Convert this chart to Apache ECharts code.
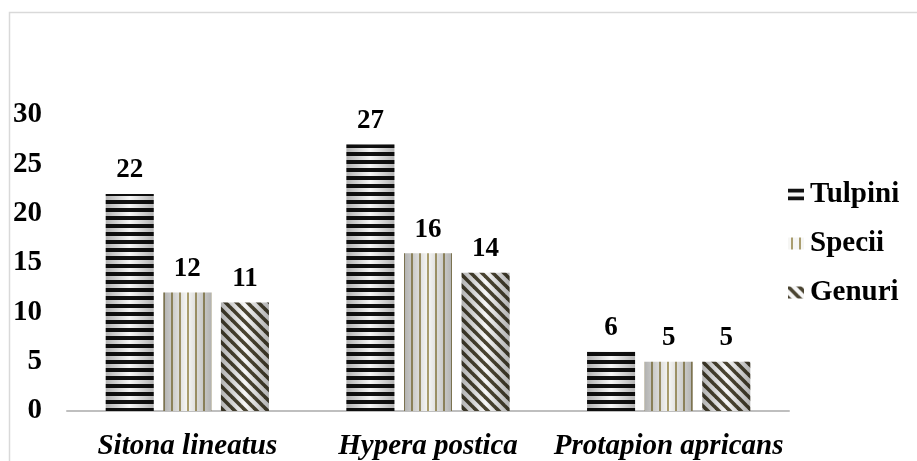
<!DOCTYPE html>
<html>
<head>
<meta charset="utf-8">
<script src="https://cdn.jsdelivr.net/npm/echarts@6/dist/echarts.min.js"></script>
<style>
html,body{margin:0;padding:0;background:#fff;}
#chart{width:917px;height:461px;}
</style>
</head>
<body>
<div id="chart"></div>
<script>
var categories = ['Sitona lineatus', 'Hypera postica', 'Protapion apricans'];
var tulpini = [22, 27, 6];
var specii = [12, 16, 5];
var genuri = [11, 14, 5];
var yTicks = [0, 5, 10, 15, 20, 25, 30];

function makeTile(w, h, draw) {
  var c = document.createElement('canvas');
  c.width = w; c.height = h;
  var ctx = c.getContext('2d');
  draw(ctx, w, h);
  return c;
}
var tileTulpini = makeTile(8, 8, function (ctx, w, h) {
  ctx.fillStyle = '#f7f7f7'; ctx.fillRect(0, 0, w, h);
  ctx.fillStyle = '#111111'; ctx.fillRect(0, 0, w, 4);
});
var tileSpecii = makeTile(8, 8, function (ctx, w, h) {
  ctx.fillStyle = '#f6f6f4'; ctx.fillRect(0, 0, w, h);
  ctx.fillStyle = '#a99d6e'; ctx.fillRect(3, 0, 2, h);
});
var tileGenuri = makeTile(11, 11, function (ctx, w, h) {
  ctx.fillStyle = '#f7f7f7'; ctx.fillRect(0, 0, w, h);
  ctx.strokeStyle = '#4a4431'; ctx.lineWidth = 3.6;
  for (var k = -1; k <= 1; k++) {
    ctx.beginPath();
    ctx.moveTo(k * w - 2, -2);
    ctx.lineTo(k * w + w + 2, h + 2);
    ctx.stroke();
  }
});

var fontFam = '"Liberation Serif", "Times New Roman", serif';
var labelStyle = { show: true, position: 'top', distance: 10, fontFamily: fontFam, fontWeight: 'bold', fontSize: 27, color: '#000' };

var shade = new echarts.graphic.LinearGradient(0, 0, 1, 0, [
  { offset: 0, color: 'rgba(0,0,0,0.28)' },
  { offset: 0.5, color: 'rgba(0,0,0,0)' },
  { offset: 1, color: 'rgba(0,0,0,0.28)' }
]);

var barW = 48, barGap = '20%';
function mainSeries(name, data, tile) {
  return { name: name, type: 'bar', xAxisIndex: 0, data: data, barWidth: barW, barGap: barGap,
    itemStyle: { color: { image: tile, repeat: 'repeat' } }, label: labelStyle };
}
function shadeSeries(name, data) {
  return { name: name, type: 'bar', xAxisIndex: 1, data: data, barWidth: barW, barGap: barGap,
    silent: true, itemStyle: { color: shade }, label: { show: false }, z: 3 };
}

var chart = echarts.init(document.getElementById('chart'));
chart.setOption({
  animation: false,
  backgroundColor: '#fff',
  graphic: [{ type: 'rect', shape: { x: 9.5, y: 12.5, width: 1200, height: 1200 }, style: { fill: 'none', stroke: '#d9d9d9', lineWidth: 1.5 }, silent: true }],
  grid: { left: 67, right: 128, top: 115, bottom: 50 },
  legend: {
    data: ['Tulpini', 'Specii', 'Genuri'],
    orient: 'vertical', left: 783, top: 175, itemGap: 20,
    itemWidth: 16, itemHeight: 12, icon: 'rect',
    textStyle: { fontFamily: fontFam, fontWeight: 'bold', fontSize: 29, color: '#000', padding: [0, 0, 0, 1] }
  },
  xAxis: [{
    type: 'category', data: categories,
    axisLine: { lineStyle: { color: '#bfbfbf', width: 2 } },
    axisTick: { show: false },
    axisLabel: { interval: 0, hideOverlap: false, margin: 21, fontFamily: fontFam, fontWeight: 'bold', fontStyle: 'italic', fontSize: 29, color: '#000' }
  }, {
    type: 'category', data: categories, show: false
  }],
  yAxis: {
    type: 'value', min: yTicks[0], max: yTicks[yTicks.length - 1], interval: 5,
    axisLine: { show: false }, axisTick: { show: false }, splitLine: { show: false },
    axisLabel: { margin: 25, fontFamily: fontFam, fontWeight: 'bold', fontSize: 29, color: '#000' }
  },
  series: [
    mainSeries('Tulpini', tulpini, tileTulpini),
    mainSeries('Specii', specii, tileSpecii),
    mainSeries('Genuri', genuri, tileGenuri),
    shadeSeries('s1', tulpini),
    shadeSeries('s2', specii),
    shadeSeries('s3', genuri)
  ]
});
</script>
</body>
</html>
